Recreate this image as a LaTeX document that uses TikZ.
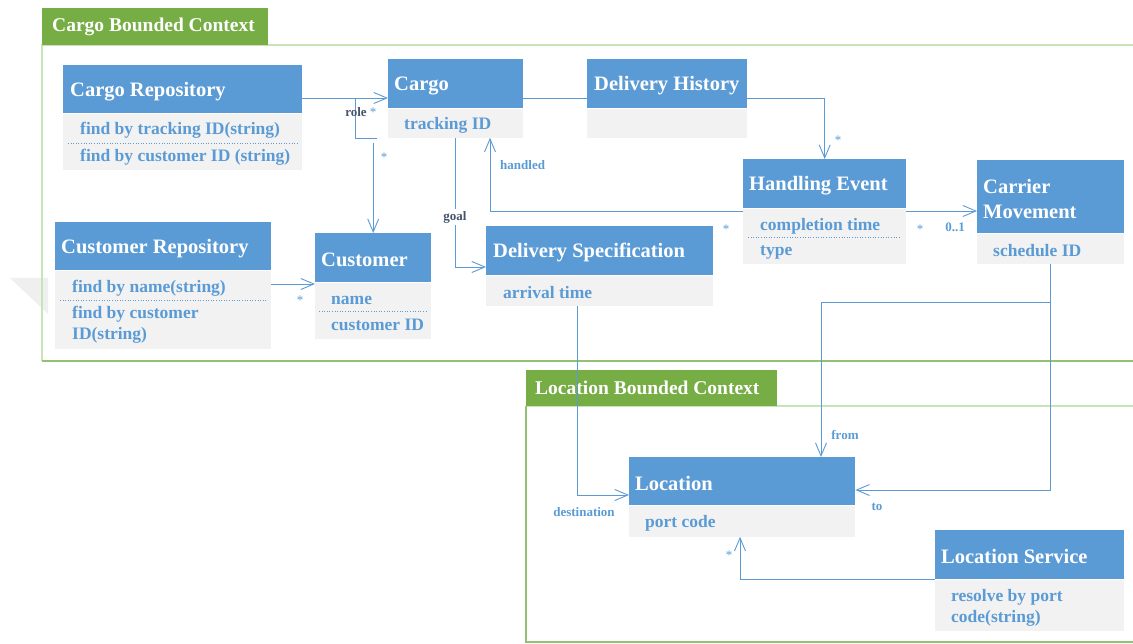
\documentclass[tikz,border=0pt]{standalone}
\usepackage{fontspec}
\setmainfont{Liberation Serif}
\usetikzlibrary{arrows.meta}

\definecolor{hdrblue}{HTML}{5B9BD5}
\definecolor{bodygray}{HTML}{F2F2F2}
\definecolor{tabgreen}{HTML}{76AD44}
\definecolor{framelight}{HTML}{C9E2B8}
\definecolor{framedark}{HTML}{93C173}
\definecolor{linkblue}{HTML}{5B9BD5}
\definecolor{labdark}{HTML}{44546A}
\definecolor{softgray}{HTML}{EFEFEF}

\tikzset{
  hdr/.style={fill=hdrblue, inner sep=0pt, anchor=north west},
  bodybox/.style={fill=bodygray, inner sep=0pt, anchor=north west},
  ttl/.style={text=white, font=\bfseries\fontsize{20.5}{25}\selectfont, inner sep=0pt, anchor=west, align=left, yshift=-2pt},
  attr/.style={text=hdrblue, font=\bfseries\fontsize{17.5}{21}\selectfont, inner sep=0pt, anchor=west, align=left, yshift=-2pt},
  sep/.style={draw=hdrblue, dotted, line width=0.6pt},
  link/.style={draw=linkblue, line width=0.9pt},
  arr/.style={link, -{Straight Barb[length=13pt, width=11pt, line width=0.9pt]}},
  lab/.style={text=linkblue, font=\bfseries\fontsize{13}{15}\selectfont, inner sep=0pt},
  labd/.style={lab, text=labdark},
  mult/.style={text=linkblue, font=\fontsize{13}{15}\selectfont, inner sep=0pt},
  tabbox/.style={fill=tabgreen, inner sep=0pt, anchor=north west},
  tabtxt/.style={text=white, font=\bfseries\fontsize{19.5}{22}\selectfont, inner sep=0pt, anchor=west},
  lightedge/.style={draw=framelight, line width=1.2pt},
  darkedge/.style={draw=framedark, line width=1.2pt},
}

\begin{document}
\begin{tikzpicture}[x=1pt, y=-1pt]
\useasboundingbox (0,0) rectangle (1133,644);
\fill[white] (0,0) rectangle (1133,644);

% soft shadow at the left edge of the cargo context
\fill[softgray] (10,278) -- (48,278) -- (48,314) -- cycle;

% ---------- bounded context frames ----------
\draw[lightedge] (1150,45) -- (42,45) -- (42,361);
\draw[darkedge] (42,361) -- (1150,361);
\node[tabbox, minimum width=226pt, minimum height=37pt] (cbTab) at (42,8) {};
\node[tabtxt] at ([xshift=10pt]cbTab.west) {Cargo Bounded Context};

\draw[lightedge] (1150,406) -- (526,406);
\draw[darkedge] (526,406) -- (526,642) -- (1150,642);
\node[tabbox, minimum width=251pt, minimum height=36pt] (lbTab) at (526,370) {};
\node[tabtxt] at ([xshift=9pt]lbTab.west) {Location Bounded Context};

% ---------- classes ----------
% Cargo Repository
\node[hdr, minimum width=239pt, minimum height=48pt] (crH) at (63,65) {};
\node[bodybox, minimum width=239pt, minimum height=56pt] (crB) at (crH.south west) {};
\node[ttl] at ([xshift=7pt]crH.west) {Cargo Repository};
\node[attr] at (80,128) {find by tracking ID(string)};
\draw[sep] (68,143) -- (297,143);
\node[attr] at (80,155) {find by customer ID (string)};

% Cargo
\node[hdr, minimum width=135pt, minimum height=49pt] (cgH) at (388,59) {};
\node[bodybox, minimum width=135pt, minimum height=29pt] (cgB) at (cgH.south west) {};
\node[ttl] at ([xshift=6pt]cgH.west) {Cargo};
\node[attr] at (404,123) {tracking ID};

% Delivery History
\node[hdr, minimum width=160pt, minimum height=49pt] (dhH) at (587,59) {};
\node[bodybox, minimum width=160pt, minimum height=29pt] (dhB) at (dhH.south west) {};
\node[ttl] at ([xshift=7pt]dhH.west) {Delivery History};

% Handling Event
\node[hdr, minimum width=163pt, minimum height=49pt] (heH) at (743,159) {};
\node[bodybox, minimum width=163pt, minimum height=55pt] (heB) at (heH.south west) {};
\node[ttl] at ([xshift=6pt]heH.west) {Handling Event};
\node[attr] at (760,224) {completion time};
\draw[sep] (748,237) -- (901,237);
\node[attr] at (760,250) {type};

% Carrier Movement
\node[hdr, minimum width=147pt, minimum height=73pt] (cmH) at (977,160) {};
\node[bodybox, minimum width=147pt, minimum height=30pt] (cmB) at (cmH.south west) {};
\node[ttl] at ([xshift=6pt]cmH.west) {Carrier\\Movement};
\node[attr] at (993,249) {schedule ID};

% Delivery Specification
\node[hdr, minimum width=227pt, minimum height=49pt] (dsH) at (486,226) {};
\node[bodybox, minimum width=227pt, minimum height=30pt] (dsB) at (dsH.south west) {};
\node[ttl] at ([xshift=7pt]dsH.west) {Delivery Specification};
\node[attr] at (503,291) {arrival time};

% Customer Repository
\node[hdr, minimum width=216pt, minimum height=48pt] (cpH) at (55,222) {};
\node[bodybox, minimum width=216pt, minimum height=78pt] (cpB) at (cpH.south west) {};
\node[ttl] at ([xshift=6pt]cpH.west) {Customer Repository};
\node[attr] at (72,286) {find by name(string)};
\draw[sep] (60,300) -- (266,300);
\node[attr] at (72,322.5) {find by customer\\ID(string)};

% Customer
\node[hdr, minimum width=116pt, minimum height=49pt] (cuH) at (315,233) {};
\node[bodybox, minimum width=116pt, minimum height=56pt] (cuB) at (cuH.south west) {};
\node[ttl] at ([xshift=6pt]cuH.west) {Customer};
\node[attr] at (331,298) {name};
\draw[sep] (319,311) -- (427,311);
\node[attr] at (331,323) {customer ID};

% Location
\node[hdr, minimum width=226pt, minimum height=48pt] (loH) at (629,457) {};
\node[bodybox, minimum width=226pt, minimum height=31pt] (loB) at (loH.south west) {};
\node[ttl] at ([xshift=6pt]loH.west) {Location};
\node[attr] at (645,521) {port code};

% Location Service
\node[hdr, minimum width=189pt, minimum height=49pt] (lsH) at (935,530) {};
\node[bodybox, minimum width=189pt, minimum height=51pt] (lsB) at (lsH.south west) {};
\node[ttl] at ([xshift=6pt]lsH.west) {Location Service};
\node[attr] at (951,605.5) {resolve by port\\code(string)};

% ---------- associations ----------
% Cargo Repository -> Cargo
\draw[arr] (crH.east |- 0,98) -- (cgH.west |- 0,98);
\draw[link] (355,98) -- (355,138) -- (377,138);
\node[labd] at (356,112) {role};
\node[mult] at (373,112) {*};
% Cargo -> Customer
\draw[arr] (cuH.north |- 0,143) -- (cuH.north);
\node[mult] at (384,157) {*};

% Cargo -- Delivery History
\draw[link] (cgH.east |- 0,98) -- (dhH.west |- 0,98);

% Delivery History -> Handling Event
\draw[arr] (dhH.east |- 0,98) -| (heH.north);
\node[mult] at (838,140) {*};

% Handling Event -> Cargo (handled)
\draw[arr] (heB.west |- 0,211) -| (cgB.south -| 490,0);
\node[lab, anchor=west] at (500,165) {handled};
\node[mult] at (726,229) {*};

% Handling Event -> Carrier Movement
\draw[arr] (heB.east |- 0,211) -- (cmH.west |- 0,211);
\node[mult] at (920,229) {*};
\node[lab] at (955,227) {0..1};

% Cargo -> Delivery Specification (goal)
\draw[arr] (cgB.south -| 455,0) |- (dsH.west |- 0,267);
\node[labd, fill=white, inner ysep=2pt] at (455,217) {goal};

% Customer Repository -> Customer
\draw[arr] (cpH.east |- 0,284) -- (cuB.west |- 0,284);
\node[mult] at (300,300) {*};

% Delivery Specification -> Location (destination)
\draw[arr] (dsB.south -| 577,0) |- (loH.west |- 0,495);
\node[lab] at (584,512) {destination};

% Carrier Movement -> Location (to / from)
\draw[arr] (cmB.south) |- (loH.east |- 0,490);
\node[lab] at (877,507) {to};
\draw[arr] (cmB.south |- 0,302) -| (loH.north -| 821,0);
\node[lab] at (845,435) {from};

% Location Service -> Location
\draw[arr] (lsH.west |- 0,579) -| (loB.south -| 740,0);
\node[mult] at (729,555) {*};
\end{tikzpicture}
\end{document}
